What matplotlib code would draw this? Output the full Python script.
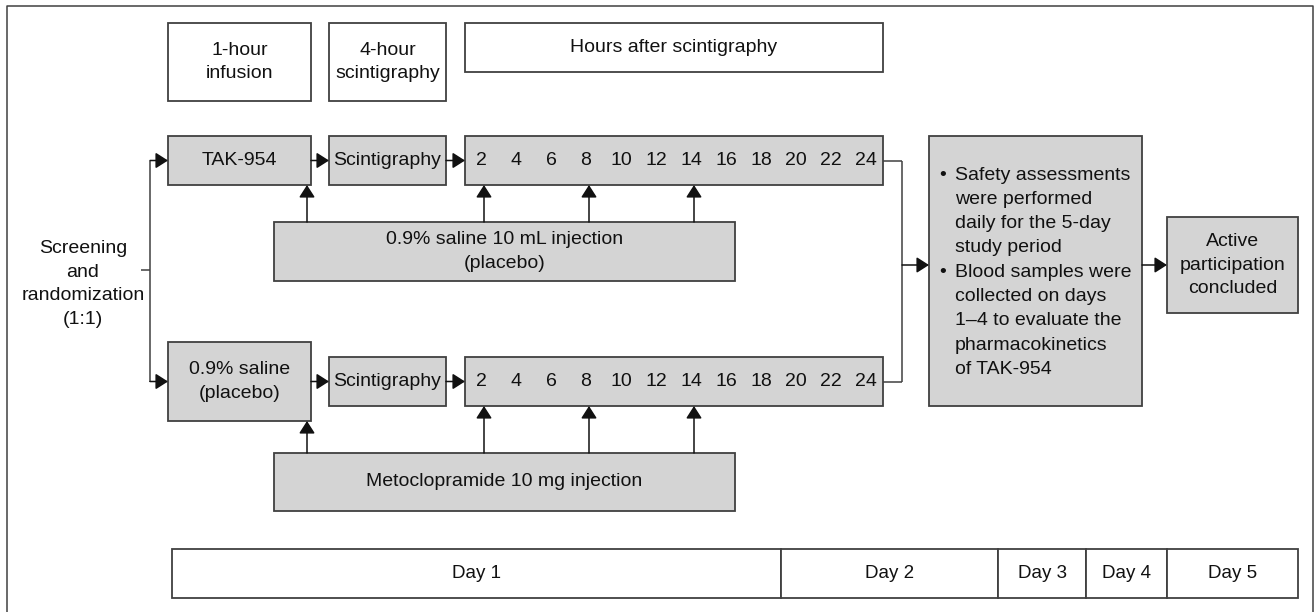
import matplotlib.pyplot as plt
from matplotlib.patches import Rectangle

plt.rcParams['font.family'] = ['Liberation Sans', 'DejaVu Sans']

# labels / values
phase_labels = ['1-hour\ninfusion', '4-hour\nscintigraphy', 'Hours after scintigraphy']
arm_labels = ['TAK-954', '0.9% saline\n(placebo)']
scint_label = 'Scintigraphy'
hours = [2, 4, 6, 8, 10, 12, 14, 16, 18, 20, 22, 24]
dose_hours = [2, 8, 14]
inject_labels = ['0.9% saline 10 mL injection\n(placebo)', 'Metoclopramide 10 mg injection']
screen_label = 'Screening\nand\nrandomization\n(1:1)'
bullet1 = ['Safety assessments', 'were performed', 'daily for the 5-day', 'study period']
bullet2 = ['Blood samples were', 'collected on days', '1\u20134 to evaluate the', 'pharmacokinetics', 'of TAK-954']
end_label = 'Active\nparticipation\nconcluded'
days = ['Day 1', 'Day 2', 'Day 3', 'Day 4', 'Day 5']
day_edges = [172, 781, 998, 1086, 1167, 1298]

GRAY = '#d4d4d4'
EDGE = '#404040'
FS = 14
LS = 1.5

fig = plt.figure(figsize=(13.16, 6.12), dpi=100)
ax = fig.add_axes([0, 0, 1, 1])
ax.set_xlim(0, 1316)
ax.set_ylim(612, 0)
ax.axis('off')


def box(x0, y0, x1, y1, fill='white', text=None, fs=FS, lw=1.3):
    ax.add_patch(Rectangle((x0, y0), x1 - x0, y1 - y0, facecolor=fill,
                           edgecolor=EDGE, lw=lw, zorder=2))
    if text:
        ax.text((x0 + x1) / 2, (y0 + y1) / 2, text, ha='center', va='center',
                fontsize=fs, color='#111111', linespacing=LS, zorder=3)


def arrow(x0, y0, x1, y1):
    ax.annotate('', xy=(x1, y1), xytext=(x0, y0),
                arrowprops=dict(arrowstyle='-|>,head_length=0.5,head_width=0.32',
                                mutation_scale=15, color='#111111', lw=1.1,
                                shrinkA=0, shrinkB=0), zorder=4)


def line(xs, ys):
    ax.plot(xs, ys, color=EDGE, lw=1.1, zorder=1, solid_capstyle='butt')


# outer frame (no bottom edge)
line([7, 7, 1313, 1313], [612, 6, 6, 612])

# header boxes
box(168, 23, 311, 101, text=phase_labels[0])
box(329, 23, 446, 101, text=phase_labels[1])
box(465, 23, 883, 72, text=phase_labels[2])

# screening and split
ax.text(83, 284, screen_label, ha='center', va='center', fontsize=FS,
        color='#111111', linespacing=LS)
line([141, 150], [270, 270])
line([150, 150], [161, 382])

hx0, hdx = 481, 35
rows = [(136, 185, 136, 185, 222, 281), (342, 421, 357, 406, 453, 511)]
for i, (ay0, ay1, sy0, sy1, iy0, iy1) in enumerate(rows):
    yc = (sy0 + sy1) / 2
    arrow(150, yc, 168, yc)
    box(168, ay0, 311, ay1, fill=GRAY, text=arm_labels[i])
    arrow(311, yc, 329, yc)
    box(329, sy0, 446, sy1, fill=GRAY, text=scint_label)
    arrow(446, yc, 465, yc)
    box(465, sy0, 883, sy1, fill=GRAY)
    for k, h in enumerate(hours):
        ax.text(hx0 + k * hdx, yc, str(h), ha='center', va='center',
                fontsize=FS, color='#111111', zorder=3)
    box(274, iy0, 735, iy1, fill=GRAY, text=inject_labels[i])
    arrow(307, iy0, 307, ay1)
    for h in dose_hours:
        xh = hx0 + hours.index(h) * hdx + 3
        arrow(xh, iy0, xh, sy1)
    line([883, 902], [yc, yc])

line([902, 902], [160.5, 381.5])
arrow(902, 265, 929, 265)

# assessments box
box(929, 136, 1142, 406, fill=GRAY)
y = 175
for blk in (bullet1, bullet2):
    ax.text(939, y, '\u2022', ha='left', va='center', fontsize=FS, color='#111111', zorder=3)
    for ln in blk:
        ax.text(955, y, ln, ha='left', va='center', fontsize=FS, color='#111111', zorder=3)
        y += 24.3

arrow(1142, 265, 1167, 265)
box(1167, 217, 1298, 313, fill=GRAY, text=end_label)

# day bar
for d, a, b in zip(days, day_edges[:-1], day_edges[1:]):
    box(a, 549, b, 598, text=d, fs=13.5)

fig.savefig('out.png', dpi=100)
